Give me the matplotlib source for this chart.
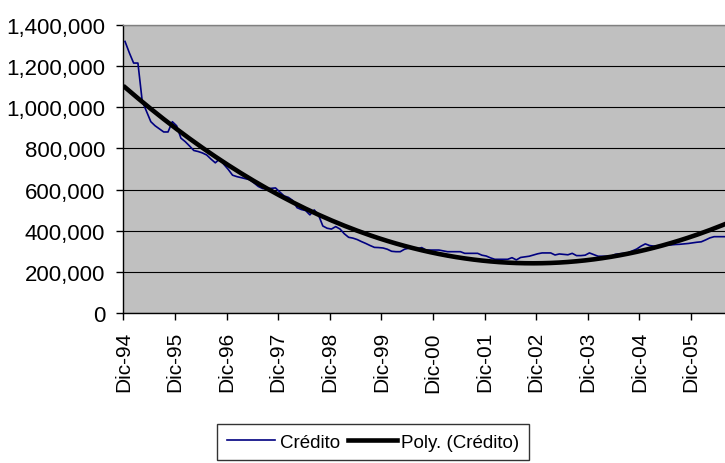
import numpy as np
import matplotlib
matplotlib.use("Agg")
import matplotlib.pyplot as plt
from matplotlib.ticker import FuncFormatter

plt.rcParams['font.family'] = ['Liberation Sans', 'DejaVu Sans']

# Monthly credit balance, starting Dec-1994
credito = [
    1320000, 1265000, 1215000, 1215000, 1030000, 980000, 930000, 910000, 895000, 880000,
    880000, 930000, 910000, 850000, 833000, 812000, 790000, 785000, 778000, 768000,
    748000, 730000, 749000, 722000, 698000, 670000, 663000, 658000, 653000, 648000,
    632000, 615000, 605000, 604000, 606000, 608000, 588000, 569000, 562000, 547000,
    512000, 503000, 498000, 477000, 501000, 476000, 423000, 412000, 408000, 420000,
    408000, 385000, 368000, 364000, 357000, 347000, 338000, 328000, 319000, 318000,
    316000, 310000, 300000, 298000, 298000, 310000, 315000, 313000, 312000, 318000,
    306000, 306000, 306000, 306000, 302000, 298000, 298000, 298000, 298000, 290000,
    290000, 290000, 290000, 281000, 277000, 268000, 261000, 261000, 261000, 261000,
    269000, 258000, 270000, 273000, 276000, 282000, 288000, 292000, 292000, 292000,
    282000, 287000, 285000, 283000, 290000, 279000, 279000, 281000, 292000, 284000,
    276000, 276000, 276000, 276000, 285000, 288000, 290000, 293000, 302000, 311000,
    325000, 336000, 328000, 325000, 327000, 328000, 330000, 331000, 333000, 334000,
    336000, 338000, 341000, 344000, 346000, 355000, 365000, 371000, 371000, 371000,
    371000,
]

tick_labels = ["Dic-94", "Dic-95", "Dic-96", "Dic-97", "Dic-98", "Dic-99",
               "Dic-00", "Dic-01", "Dic-02", "Dic-03", "Dic-04", "Dic-05"]
y_ticks = [0, 200000, 400000, 600000, 800000, 1000000, 1200000, 1400000]

W, H = 725, 464
fig = plt.figure(figsize=(W / 100, H / 100), dpi=100)
fig.patch.set_facecolor("white")

px_per_month = 4.30
x_max = 142
left_px, top_px, bottom_px = 123.3, 26, 314
ax = fig.add_axes([left_px / W, 1 - bottom_px / H,
                   x_max * px_per_month / W, (bottom_px - top_px) / H])
ax.set_facecolor("#C0C0C0")

months = np.arange(len(credito)) + 0.4
values = np.array(credito, dtype=float)

# second-order polynomial trend of the series
coef = np.polyfit(months, values, 2)
trend = np.polyval(coef, months)

ax.plot(months, values, color="#000080", lw=1.2, zorder=3, label="Crédito")
ax.plot(months, trend, color="black", lw=3.3, zorder=4, label="Poly. (Crédito)")

ax.set_xlim(0, x_max)
ax.set_ylim(0, 1400000)
ax.set_yticks(y_ticks)
ax.yaxis.set_major_formatter(FuncFormatter(lambda v, p: f"{v:,.0f}"))
ax.set_xticks(np.arange(len(tick_labels)) * 12)
ax.set_xticklabels(tick_labels, rotation=90, va="top", ha="center")

ax.grid(axis="y", color="black", lw=0.8, zorder=1)
ax.set_axisbelow(True)

ax.spines["right"].set_visible(False)
ax.spines["top"].set_color("#808080")
ax.spines["top"].set_linewidth(1.0)
for side in ("left", "bottom"):
    ax.spines[side].set_color("black")
    ax.spines[side].set_linewidth(1.0)

ax.tick_params(axis="both", direction="out", length=5, width=1, color="black")
ax.tick_params(axis="y", pad=8, labelsize=16)
ax.tick_params(axis="x", pad=8, labelsize=15)

leg = fig.legend(loc="center", bbox_to_anchor=(373 / W, 1 - 443 / H), ncol=2,
                 fontsize=13.5, frameon=True, fancybox=False, edgecolor="black",
                 handlelength=2.6, handletextpad=0.25, columnspacing=0.4,
                 borderpad=0.5, borderaxespad=0)
leg.get_frame().set_linewidth(1.0)

fig.savefig("out.png", dpi=100)
